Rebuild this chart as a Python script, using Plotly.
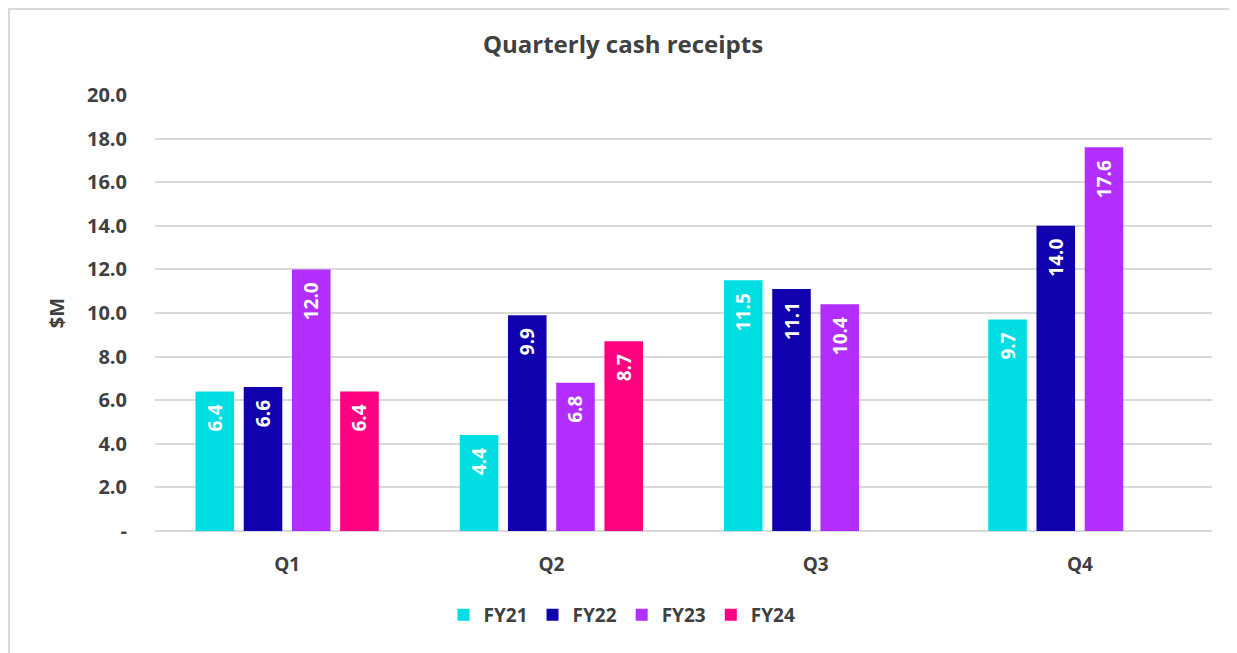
import plotly.graph_objects as go

quarters = ["Q1", "Q2", "Q3", "Q4"]
series_names = ["FY21", "FY22", "FY23", "FY24"]
fy21 = [6.4, 4.4, 11.5, 9.7]
fy22 = [6.6, 9.9, 11.1, 14.0]
fy23 = [12.0, 6.8, 10.4, 17.6]
fy24 = [6.4, 8.7, None, None]
colors = ["#00DDE3", "#1000AE", "#B22EFF", "#FF0080"]
tick_vals = [0, 2, 4, 6, 8, 10, 12, 14, 16, 18, 20]
tick_text = ["-", "2.0", "4.0", "6.0", "8.0", "10.0", "12.0", "14.0", "16.0", "18.0", "20.0"]

FONT = "Open Sans"
GREY = "#404040"
PAD = "\u00a0\u00a0"  # small trailing gap so labels sit a bit below the bar top

# page offset (browser body margin)
O = 8
W, H = 1237, 653
# target plot area in page pixels
PL, PR, PT, PB = 155, 1212, 95, 531
L, T = PL - O, PT - O
R, B = O + W - PR, O + H - PB
pw, ph = W - L - R, H - T - B


def cx(xpage):
    return (xpage - O) / W


def cy(ypage):
    return 1 - (ypage - O) / H


def px_x(xpage):
    return (xpage - PL) / pw


def px_y(ypage):
    return (PB - ypage) / ph


fig = go.Figure()
for name, vals, col in zip(series_names, [fy21, fy22, fy23, fy24], colors):
    fig.add_trace(go.Bar(
        name=name, x=quarters, y=vals, marker_color=col, marker_line_width=0,
        text=[f"{v:.1f}{PAD}" if v is not None else "" for v in vals],
        textposition="inside", insidetextanchor="end", textangle=-90,
        textfont=dict(family=FONT, size=19, color="white", weight="bold"),
    ))

fig.update_layout(
    width=W, height=H,
    margin=dict(l=L, r=R, t=T, b=B, autoexpand=False),
    paper_bgcolor="white", plot_bgcolor="white",
    barmode="group", bargap=0.27, bargroupgap=0.2,
    uniformtext=dict(minsize=8, mode="show"),
    title=dict(text="<b>Quarterly cash receipts</b>", x=cx(623), xanchor="center",
               y=cy(45), yanchor="middle",
               font=dict(family=FONT, size=24, color=GREY)),
    font=dict(family=FONT, color=GREY),
    legend=dict(orientation="h", xref="container", yref="container",
                x=cx(622), xanchor="center", y=cy(615), yanchor="middle",
                font=dict(family=FONT, size=19, color=GREY, weight="bold"),
                itemwidth=30, traceorder="normal"),
    xaxis=dict(showgrid=False, showline=False, ticks="",
               tickfont=dict(family=FONT, size=19, color=GREY, weight="bold"),
               ticklabelstandoff=20),
    yaxis=dict(range=[0, 20], tickvals=tick_vals, ticktext=tick_text,
               showgrid=True, gridcolor="#D9D9D9", gridwidth=2,
               zeroline=True, zerolinecolor="#D9D9D9", zerolinewidth=2,
               showline=False, ticks="",
               tickfont=dict(family=FONT, size=20, color=GREY, weight="bold"),
               ticklabelstandoff=27,
               title=dict(text="<b>$M</b>", font=dict(family=FONT, size=20, color=GREY),
                          standoff=16)),
    shapes=[dict(type="rect", xref="paper", yref="paper",
                 x0=px_x(O + 1), x1=px_x(1260), y0=px_y(680), y1=px_y(O + 1),
                 line=dict(color="#D9D9D9", width=2), fillcolor="rgba(0,0,0,0)",
                 layer="below")],
)

fig.write_html("out.html")
